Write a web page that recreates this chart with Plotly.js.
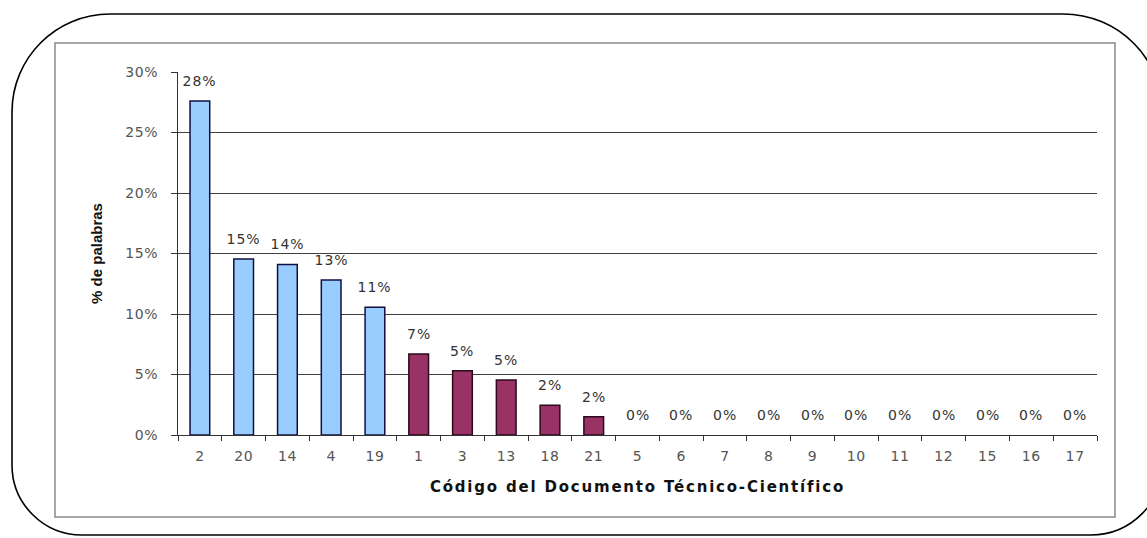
<!DOCTYPE html>
<html>
<head>
<meta charset="utf-8">
<script src="https://cdn.plot.ly/plotly-3.0.1.min.js"></script>
<style>
html,body{margin:0;padding:0;background:#fff;}
#chart{width:1147px;height:538px;}
#chart .xtick text, #chart .ytick text{letter-spacing:0.6px;}
#chart .xtitle{letter-spacing:1.8px;}
#chart .annotation-text{letter-spacing:1px;}
</style>
</head>
<body>
<div id="chart"></div>
<script>
// Data
const categories = ['2','20','14','4','19','1','3','13','18','21','5','6','7','8','9','10','11','12','15','16','17'];
const values = [27.6, 14.55, 14.1, 12.8, 10.55, 6.7, 5.3, 4.55, 2.45, 1.5, 0, 0, 0, 0, 0, 0, 0, 0, 0, 0, 0];
const groups = ['alto','alto','alto','alto','alto','medio','medio','medio','medio','medio',
                'nulo','nulo','nulo','nulo','nulo','nulo','nulo','nulo','nulo','nulo','nulo'];
const yTickVals = [0, 5, 10, 15, 20, 25, 30];
const xTitle = 'Código del Documento Técnico-Científico';
const yTitle = '% de palabras';

const fillMap = {alto: '#99ccff', medio: '#993366', nulo: '#99ccff'};
const lineMap = {alto: '#101040', medio: '#2a0a1c', nulo: '#101040'};

// plot area geometry (pixels)
const ML = 178, MR = 50, MT = 72, MB = 103;
const W = 1147, H = 538;
const PW = W - ML - MR, PH = H - MT - MB;
function px(x) { return ((x - ML) / PW).toFixed(5); }
function py(y) { return ((H - MB - y) / PH).toFixed(5); }
function pt(x, y) { return px(x) + ',' + py(y); }
const k = 0.5523;

function roundedPath(l, t, r, b, rtl, rtr, rbr, rbl) {
  return 'M ' + pt(l, t + rtl) +
    ' C ' + pt(l, t + rtl - rtl * k) + ' ' + pt(l + rtl - rtl * k, t) + ' ' + pt(l + rtl, t) +
    ' L ' + pt(r - rtr, t) +
    ' C ' + pt(r - rtr + rtr * k, t) + ' ' + pt(r, t + rtr - rtr * k) + ' ' + pt(r, t + rtr) +
    ' L ' + pt(r, b - rbr) +
    ' C ' + pt(r, b - rbr + rbr * k) + ' ' + pt(r - rbr + rbr * k, b) + ' ' + pt(r - rbr, b) +
    ' L ' + pt(l + rbl, b) +
    ' C ' + pt(l + rbl - rbl * k, b) + ' ' + pt(l, b - rbl + rbl * k) + ' ' + pt(l, b - rbl) + ' Z';
}

const trace = {
  type: 'bar',
  x: categories,
  y: values,
  marker: {
    color: groups.map(g => fillMap[g]),
    line: {color: groups.map(g => lineMap[g]), width: values.map(v => v > 0 ? 1.5 : 0)}
  },
  hoverinfo: 'x+y',
  cliponaxis: false
};

// data labels: positioned on the category index of each bar
const annotations = categories.map((c, i) => ({
  x: i, y: values[i], xref: 'x', yref: 'y',
  text: Math.round(values[i]) + '%',
  showarrow: false, yanchor: 'middle', yshift: 20,
  font: {family: 'DejaVu Sans, sans-serif', size: 14, color: '#333333'}
}));

const layout = {
  width: W, height: H,
  margin: {l: ML, r: MR, t: MT, b: MB, pad: 0},
  paper_bgcolor: '#ffffff',
  plot_bgcolor: '#c0c0c0',
  bargap: 0.55,
  showlegend: false,
  font: {family: 'DejaVu Sans, sans-serif', color: '#555555'},
  xaxis: {
    type: 'category',
    tickson: 'boundaries',
    ticks: 'outside', ticklen: 5, tickcolor: '#333333', tickwidth: 1,
    showline: true, linecolor: '#333333', linewidth: 1,
    showgrid: false,
    tickfont: {family: 'DejaVu Sans, sans-serif', size: 14, color: '#555555'},
    ticklabelstandoff: 8,
    title: {text: xTitle, standoff: 18,
            font: {family: 'DejaVu Sans, sans-serif', size: 15, weight: 'bold', color: '#111111'}},
    fixedrange: true
  },
  yaxis: {
    range: [0, 30],
    tickvals: yTickVals,
    ticktext: yTickVals.map(v => v + '%'),
    ticks: 'outside', ticklen: 6, tickcolor: '#333333', tickwidth: 1,
    showline: true, linecolor: '#333333', linewidth: 1,
    showgrid: true, gridcolor: '#404040', gridwidth: 1,
    zeroline: false,
    tickfont: {family: 'DejaVu Sans, sans-serif', size: 14, color: '#555555'},
    ticklabelstandoff: 10,
    title: {text: yTitle, standoff: 20,
            font: {family: 'Liberation Sans, Arial, sans-serif', size: 15, weight: 'bold', color: '#111111'}},
    fixedrange: true
  },
  annotations: annotations,
  shapes: [
    {type: 'rect', xref: 'paper', yref: 'paper', layer: 'below',
     x0: px(55), x1: px(1115), y0: py(517), y1: py(43),
     line: {color: '#8a8a8a', width: 1.5}, fillcolor: '#ffffff'},
    {type: 'path', xref: 'paper', yref: 'paper', layer: 'below',
     path: roundedPath(12, 14, 1163, 535, 98, 100, 72, 70),
     line: {color: '#000000', width: 1.6}}
  ]
};

Plotly.newPlot('chart', [trace], layout, {displayModeBar: false, staticPlot: true});
</script>
</body>
</html>
